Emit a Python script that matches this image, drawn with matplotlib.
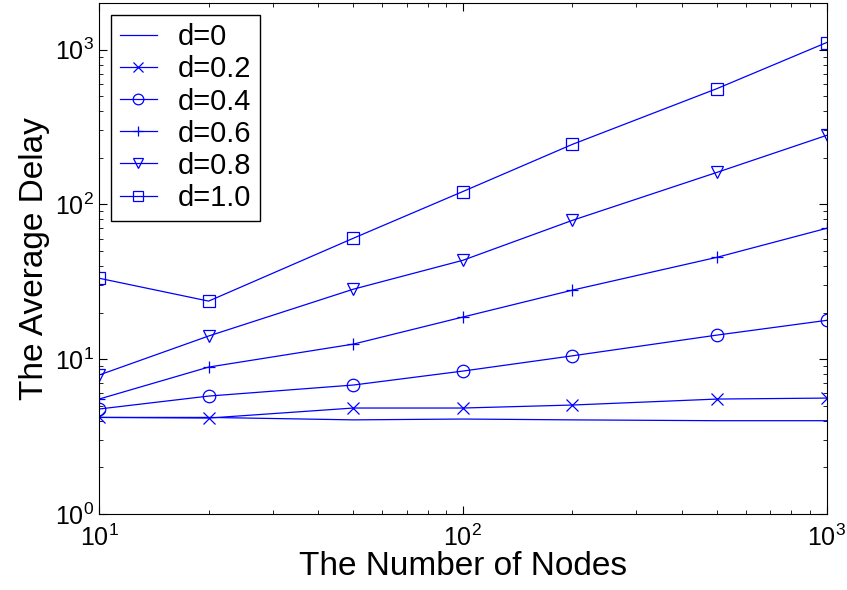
import matplotlib
matplotlib.use("Agg")
import matplotlib.pyplot as plt

plt.rcParams["font.family"] = ["Liberation Sans", "DejaVu Sans"]
plt.rcParams["mathtext.default"] = "regular"

nodes = [10, 20, 50, 100, 200, 500, 1000]
d0 = [4.2, 4.2, 4.05, 4.1, 4.05, 4.0, 4.0]
d02 = [4.2, 4.16, 4.83, 4.83, 5.05, 5.52, 5.6]
d04 = [4.76, 5.77, 6.8, 8.37, 10.5, 14.3, 17.8]
d06 = [5.52, 8.88, 12.5, 18.7, 27.9, 45.5, 70.0]
d08 = [7.89, 14.1, 28.3, 43.5, 78.8, 161, 279]
d10 = [33.3, 23.7, 60.4, 121, 244, 560, 1110]

series = [("d=0", d0, None), ("d=0.2", d02, "x"), ("d=0.4", d04, "o"),
          ("d=0.6", d06, "+"), ("d=0.8", d08, "v"), ("d=1.0", d10, "s")]

fig = plt.figure(figsize=(8.47, 5.9), dpi=100)
ax = fig.add_axes([0.117, 0.129, 0.859, 0.866])
for label, ys, mk in series:
    ax.plot(nodes, ys, color="#0000ff", lw=0.9, marker=mk, markersize=9,
            markerfacecolor="none", markeredgewidth=0.9, label=label)

ax.set_xscale("log")
ax.set_yscale("log")
ax.set_xlim(10, 1000)
ax.set_ylim(1, 2000)
ax.tick_params(which="both", direction="in", top=True, right=True, labelsize=18)
ax.tick_params(which="major", length=6)
ax.tick_params(which="minor", length=3)
ax.tick_params(axis="x", pad=8)
ax.set_xlabel("The Number of Nodes", fontsize=24, labelpad=0)
ax.set_ylabel("The Average Delay", fontsize=24, labelpad=4)
leg = ax.legend(loc="upper left", fontsize=21, fancybox=False, framealpha=1,
                edgecolor="black", borderaxespad=0.4, handlelength=1.3,
                handletextpad=0.7, labelspacing=0.14, borderpad=0.3,
                markerscale=0.85)
leg.get_frame().set_linewidth(1.0)

fig.savefig("out.png", dpi=100)
